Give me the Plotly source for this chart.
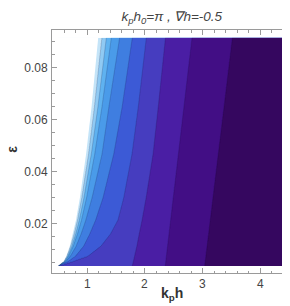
import numpy as np
import plotly.graph_objects as go

# ---- data (kh positions of each contour boundary at several epsilon rows) ----
eps_rows = [0.0037, 0.0055, 0.0075, 0.0114, 0.016, 0.0214, 0.03, 0.0468, 0.065, 0.0916]
edge_kh = [0.490, 0.590, 0.635, 0.697, 0.751, 0.804, 0.872, 0.979, 1.074, 1.189]   # white (undefined) region edge
L1 = [0.4915, 0.598, 0.647, 0.715, 0.775, 0.833, 0.907, 1.024, 1.126, 1.255]
L2 = [0.493, 0.606, 0.660, 0.734, 0.799, 0.862, 0.942, 1.069, 1.184, 1.330]
L3 = [0.494, 0.615, 0.675, 0.757, 0.829, 0.899, 0.987, 1.128, 1.254, 1.416]
L4 = [0.496, 0.630, 0.705, 0.807, 0.891, 0.974, 1.082, 1.255, 1.374, 1.560]
L5 = [0.498, 0.670, 0.795, 0.937, 1.041, 1.144, 1.272, 1.458, 1.604, 1.780]
L6 = [0.500, 0.750, 1.010, 1.237, 1.401, 1.532, 1.632, 1.775, 1.884, 2.023]
L7 = [1.780, 1.800, 1.820, 1.860, 1.900, 1.950, 2.020, 2.140, 2.230, 2.355]
L8 = [2.351, 2.361, 2.371, 2.392, 2.416, 2.445, 2.490, 2.579, 2.675, 2.815]
L9 = [3.034, 3.044, 3.055, 3.076, 3.102, 3.131, 3.178, 3.270, 3.370, 3.515]
L10 = [4.380, 4.400, 4.420, 4.460, 4.510, 4.560, 4.650, 4.750, 4.900, 5.100]
contour_lines = [L1, L2, L3, L4, L5, L6, L7, L8, L9, L10]

band_colors = ["#c4e4f8", "#90caf3", "#5fb2f0", "#4a9be9", "#3f7ee0", "#3c5ad6",
               "#463dbf", "#4a1ea4", "#420e85", "#35075f", "#29034a"]

kh_min, kh_max = 0.49, 4.55
eps_min, eps_max = 0.0037, 0.0916

x_tickvals = [1, 2, 3, 4]
x_ticktext = ["1", "2", "3", "4"]
y_tickvals = [0.02, 0.04, 0.06, 0.08]
y_ticktext = ["0.02", "0.04", "0.06", "0.08"]

# ---- build the grid the contour trace needs ----
kh_grid = np.linspace(kh_min, kh_max, 700)
eps_grid = np.linspace(eps_min, eps_max, 240)
line_pos = np.array([np.interp(eps_grid, eps_rows, L) for L in contour_lines])  # (10, neps)
z = np.empty((len(eps_grid), len(kh_grid)))
for i in range(len(eps_grid)):
    xp = np.concatenate([[0.0], line_pos[:, i], [9.0]])
    fp = np.arange(len(xp), dtype=float)
    z[i] = np.interp(kh_grid, xp, fp)

n = len(band_colors)
colorscale = [[k / (n - 1), c] for k, c in enumerate(band_colors)]

fig = go.Figure()
fig.add_trace(go.Contour(
    x=kh_grid, y=eps_grid, z=z,
    contours=dict(start=1, end=10, size=1, coloring="fill"),
    colorscale=colorscale, showscale=False,
    line=dict(color="rgba(30,20,60,0.30)", width=0.6, smoothing=1),
    hoverinfo="skip",
))

# white mask over the undefined region left of the edge
mask_x = [0.0] + list(edge_kh) + [0.0]
mask_y = [eps_rows[0]] + list(eps_rows) + [eps_rows[-1]]
fig.add_trace(go.Scatter(x=mask_x, y=mask_y, fill="toself", fillcolor="white",
                         mode="lines", line=dict(width=0, color="white"),
                         hoverinfo="skip", showlegend=False))

font_family = "Liberation Sans, Arial, sans-serif"
tick_font = dict(family=font_family, size=12, color="#444444")
axis_common = dict(
    showline=True, linecolor="#9a9a9a", linewidth=1, mirror="allticks",
    ticks="inside", ticklen=5, tickwidth=1, tickcolor="#9a9a9a",
    showgrid=False, zeroline=False, tickfont=tick_font,
)

annotations = [
    dict(text="<b>k<sub>p</sub>h</b>", xref="paper", yref="paper", x=0.49, y=-0.088,
         xanchor="center", yanchor="middle", showarrow=False,
         font=dict(family=font_family, size=14, color="#333333")),
    dict(text="<b>ε</b>", xref="paper", yref="paper", x=-0.165, y=0.51,
         xanchor="center", yanchor="middle", showarrow=False, textangle=-90,
         font=dict(family=font_family, size=14, color="#333333")),
]
# x tick labels placed under the frame at their data positions
for v, t in zip(x_tickvals, x_ticktext):
    annotations.append(dict(text=t, xref="x", yref="paper", x=v, y=-0.045,
                            xanchor="center", yanchor="middle", showarrow=False,
                            font=tick_font))

fig.update_layout(
    width=290, height=306,
    margin=dict(l=44, r=1, t=22, b=41),
    paper_bgcolor="white", plot_bgcolor="white",
    showlegend=False,
    title=dict(text="<i>k<sub>p</sub>h<sub>0</sub>=π , ∇h=-0.5</i>",
               x=0.565, y=0.972, xanchor="center", yanchor="middle",
               font=dict(family=font_family, size=13.5, color="#444444")),
    xaxis=dict(range=[0.388, 4.636], tickvals=x_tickvals, showticklabels=False,
               minor=dict(dtick=0.2, tick0=0, ticks="inside", ticklen=2.5, tickcolor="#9a9a9a"),
               **axis_common),
    yaxis=dict(range=[0.0010, 0.0946], tickvals=y_tickvals, ticktext=y_ticktext,
               minor=dict(dtick=0.005, tick0=0, ticks="inside", ticklen=2.5, tickcolor="#9a9a9a"),
               ticklabelstandoff=1,
               **axis_common),
    annotations=annotations,
)

fig.write_html("out.html")
